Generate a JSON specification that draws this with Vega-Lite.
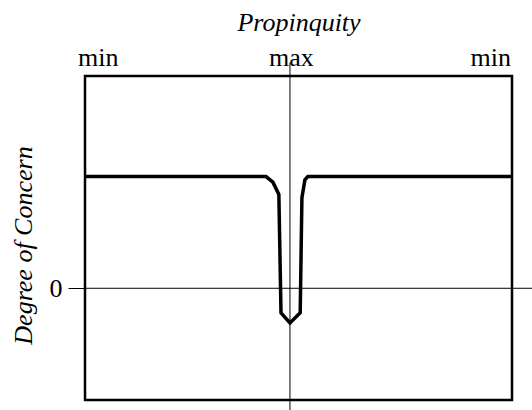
{
  "$schema": "https://vega.github.io/schema/vega-lite/v6.json",
  "width": 427,
  "height": 324,
  "autosize": "none",
  "padding": {"left": 85, "top": 76, "right": 20, "bottom": 10},
  "background": "white",
  "config": {
    "view": {"stroke": "black", "strokeWidth": 2.5},
    "font": "Liberation Serif"
  },
  "datasets": {
    "curve": [
      {"x": 0, "y": 1},
      {"x": 42.4, "y": 1},
      {"x": 44.0, "y": 0.95},
      {"x": 45.4, "y": 0.84},
      {"x": 45.9, "y": -0.22},
      {"x": 48.0, "y": -0.31},
      {"x": 50.4, "y": -0.22},
      {"x": 50.8, "y": 0.81},
      {"x": 51.5, "y": 0.97},
      {"x": 52.2, "y": 1},
      {"x": 100, "y": 1}
    ],
    "vline": [{"x": 48, "y1": 2.02, "y2": -1.09}],
    "hline": [{"x1": 0, "x2": 105, "y": 0}]
  },
  "layer": [
    {
      "data": {"name": "vline"},
      "mark": {"type": "rule", "color": "black", "strokeWidth": 1},
      "encoding": {
        "x": {
          "field": "x",
          "type": "quantitative",
          "scale": {"domain": [0, 100], "nice": false, "zero": false},
          "axis": {
            "orient": "top",
            "values": [3, 48.2, 94.9],
            "labelExpr": "datum.value > 40 && datum.value < 60 ? 'max' : 'min'",
            "domain": false,
            "ticks": false,
            "tickSize": 0,
            "grid": false,
            "labelPadding": 11,
            "labelFontSize": 26,
            "labelColor": "black",
            "labelFont": "Liberation Serif",
            "labelBaseline": "alphabetic",
            "labelFlush": false,
            "labelOverlap": false,
            "title": "Propinquity",
            "titleFont": "Liberation Serif",
            "titleFontSize": 26,
            "titleFontStyle": "italic",
            "titleFontWeight": "normal",
            "titleColor": "black",
            "titlePadding": 9
          }
        },
        "y": {
          "field": "y1",
          "type": "quantitative",
          "scale": {"domain": [-1, 1.9], "nice": false, "zero": false},
          "axis": {
            "values": [0],
            "labelExpr": "'0'",
            "domain": false,
            "ticks": true,
            "tickSize": 17,
            "tickWidth": 1,
            "tickColor": "black",
            "grid": false,
            "labelPadding": 6,
            "labelFontSize": 26,
            "labelColor": "black",
            "labelFont": "Liberation Serif",
            "title": "Degree of Concern",
            "titleFont": "Liberation Serif",
            "titleFontSize": 26,
            "titleFontStyle": "italic",
            "titleFontWeight": "normal",
            "titleColor": "black",
            "titlePadding": 13,
            "titleY": 169
          }
        },
        "y2": {"field": "y2"}
      }
    },
    {
      "data": {"name": "hline"},
      "mark": {"type": "rule", "color": "black", "strokeWidth": 1},
      "encoding": {
        "x": {"field": "x1", "type": "quantitative"},
        "x2": {"field": "x2"},
        "y": {"field": "y", "type": "quantitative"}
      }
    },
    {
      "data": {"name": "curve"},
      "mark": {"type": "line", "color": "black", "strokeWidth": 3.5},
      "encoding": {
        "x": {"field": "x", "type": "quantitative"},
        "y": {"field": "y", "type": "quantitative"}
      }
    }
  ]
}
